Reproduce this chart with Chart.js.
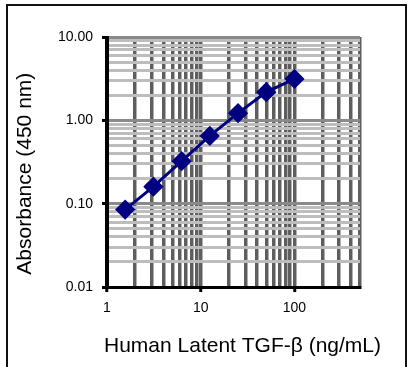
<!DOCTYPE html>
<html>
<head>
<meta charset="utf-8">
<script src="https://cdn.jsdelivr.net/npm/chart.js@4.4.0/dist/chart.umd.min.js"></script>
<style>
  body { margin: 0; background: #fff; }
  #wrap { position: relative; width: 410px; height: 367px; overflow: hidden; }
  #frame { position: absolute; left: 6px; top: 4px; width: 397px; height: 400px; border: 2px solid #111; }
  canvas { position: absolute; left: 0; top: 0; }
</style>
</head>
<body>
<div id="wrap">
  <canvas id="graph" width="410" height="367"></canvas>
  <div id="frame"></div>
</div>
<script>
// standard curve
const concentration = [1.5625, 3.125, 6.25, 12.5, 25, 50, 100];
const absorbance = [0.085, 0.16, 0.323, 0.65, 1.22, 2.18, 3.14];

const xLabels = [1, 10, 100];
const yLabels = [0.01, 0.1, 1, 10];

const xTitle = 'Human Latent TGF-β (ng/mL)';
const yTitle = 'Absorbance (450 nm)';

// minor grid positions on each decade
function decades(from, to) {
  let out = [];
  for (let d = from; d < to; d *= 10) {
    for (let k = 1; k < 10; k++) out.push(+(k * d).toPrecision(3));
  }
  out.push(to);
  return out;
}
const xGrid = decades(1, 1000).filter(v => v <= 500);
const yGrid = decades(0.01, 10);

const font = 'Liberation Sans, Arial, sans-serif';

// the x title is wider than the plot, chart.js would squeeze it
const xTitlePlugin = {
  id: 'xTitle',
  afterDraw(chart) {
    const { ctx, chartArea } = chart;
    ctx.save();
    ctx.font = '21px ' + font;
    ctx.fillStyle = '#000';
    ctx.textAlign = 'center';
    ctx.textBaseline = 'middle';
    ctx.fillText(xTitle, (chartArea.left + chartArea.right) / 2 + 9, chartArea.bottom + 59);
    ctx.restore();
  }
};

let graph = document.getElementById('graph').getContext('2d');

new Chart(graph, {
  type: 'line',
  data: {
    datasets: [{
      data: concentration.map((c, i) => ({ x: c, y: absorbance[i] })),
      borderColor: '#000080',
      backgroundColor: '#000080',
      borderWidth: 3,
      pointStyle: 'rectRot',
      pointRadius: 8,
      pointHoverRadius: 8,
      tension: 0
    }]
  },
  plugins: [xTitlePlugin],
  options: {
    responsive: false,
    animation: false,
    events: [],
    layout: { padding: { top: 37, right: 50, left: 0, bottom: 0 } },
    plugins: { legend: { display: false }, tooltip: { enabled: false } },
    scales: {
      x: {
        type: 'logarithmic',
        min: 1,
        max: 500,
        afterBuildTicks: s => { s.ticks = xGrid.map(v => ({ value: v })); },
        afterFit: s => { s.height = 80; },
        ticks: {
          autoSkip: false,
          maxRotation: 0,
          padding: 8,
          color: '#000',
          font: { family: font, size: 14 },
          callback: v => xLabels.includes(v) ? String(v) : ''
        },
        grid: {
          color: c => c.tick && c.tick.value === 1 ? '#000' : '#5e5e5e',
          lineWidth: 3.5,
          tickLength: 5,
          tickColor: c => c.tick && xLabels.includes(c.tick.value) ? '#000' : 'rgba(0,0,0,0)',
          tickWidth: 3
        },
        border: { color: '#000', width: 3 },
        title: { display: false }
      },
      y: {
        type: 'logarithmic',
        min: 0.01,
        max: 10,
        z: -1,
        afterBuildTicks: s => { s.ticks = yGrid.map(v => ({ value: v })); },
        afterFit: s => { s.width = 107; },
        ticks: {
          autoSkip: false,
          padding: 9,
          color: '#000',
          font: { family: font, size: 14 },
          callback: v => yLabels.includes(v) ? v.toFixed(2) : ''
        },
        grid: {
          color: c => c.tick && (c.tick.value === 1 || c.tick.value === 0.1 || c.tick.value === 10) ? '#8a8a8a' : '#bdbdbd',
          lineWidth: 3,
          tickLength: 5,
          tickColor: c => c.tick && yLabels.includes(c.tick.value) ? '#000' : 'rgba(0,0,0,0)',
          tickWidth: 3
        },
        border: { color: '#000', width: 3 },
        title: {
          display: true,
          text: yTitle + '    ',
          color: '#000',
          font: { family: font, size: 21 },
          padding: { top: 13, bottom: 0 }
        }
      }
    }
  }
});
</script>
</body>
</html>
